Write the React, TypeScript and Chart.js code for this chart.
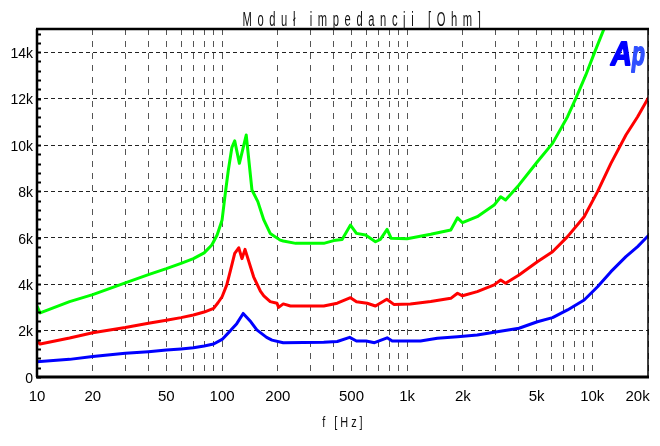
import React, { useEffect, useRef } from 'react';
import { Chart, registerables } from 'chart.js';

Chart.register(...registerables);

const titleText = 'Moduł impedancji [Ohm]';
const xTitleText = 'f [Hz]';

const xGridValues = [10, 20, 30, 40, 50, 60, 70, 80, 90, 100, 200, 300, 400, 500, 600, 700, 800, 900, 1000, 2000, 3000, 4000, 5000, 6000, 7000, 8000, 9000, 10000, 20000];
const xLabelValues = [10, 20, 50, 100, 200, 500, 1000, 2000, 5000, 10000, 20000];
const xLabelTexts = ['10', '20', '50', '100', '200', '500', '1k', '2k', '5k', '10k', '20k'];
const yTickValues = [0, 2000, 4000, 6000, 8000, 10000, 12000, 14000];
const yTickLabels = ['0', '2k', '4k', '6k', '8k', '10k', '12k', '14k'];
const yMinorStep = 400;

const greenFreq = [10, 10.4, 15, 20, 30, 40, 50, 60, 70, 80, 88, 94, 100, 104, 108, 113, 117, 124, 135, 145, 156, 168, 182, 206, 214, 250, 354, 401, 445, 494, 532, 596, 674, 716, 779, 820, 1000, 1340, 1720, 1870, 1990, 2390, 2950, 3200, 3400, 4020, 5050, 6100, 7350, 8150, 9230, 10240, 11600, 12600];
const greenZ = [3050, 2760, 3250, 3550, 4060, 4410, 4670, 4900, 5100, 5350, 5690, 6120, 6770, 7900, 8900, 9900, 10180, 9210, 10430, 8060, 7560, 6770, 6190, 5900, 5860, 5760, 5760, 5880, 5930, 6550, 6190, 6120, 5830, 5930, 6360, 5980, 5960, 6150, 6340, 6860, 6650, 6910, 7410, 7770, 7630, 8280, 9280, 10070, 11220, 12010, 13020, 13950, 15030, 15600];

const redFreq = [10, 10.4, 15, 20, 30, 40, 50, 60, 70, 80, 90, 95, 100, 106, 111, 117, 123, 128, 133, 148, 161, 168, 182, 198, 202, 214, 234, 354, 419, 494, 532, 608, 674, 776, 847, 1040, 1340, 1720, 1870, 1990, 2390, 2950, 3200, 3400, 4020, 5050, 6100, 7350, 9040, 10680, 12610, 15200, 17580, 20000];
const redZ = [1550, 1420, 1680, 1910, 2130, 2320, 2450, 2560, 2670, 2800, 2960, 3200, 3460, 3970, 4600, 5330, 5570, 5100, 5500, 4320, 3700, 3500, 3250, 3180, 3000, 3150, 3060, 3060, 3180, 3420, 3240, 3180, 3060, 3350, 3130, 3150, 3250, 3390, 3610, 3500, 3680, 3970, 4180, 4040, 4400, 4970, 5400, 6050, 6910, 7990, 9210, 10430, 11220, 12010];

const blueFreq = [10, 15, 20, 30, 40, 50, 60, 70, 80, 90, 100, 111, 120, 130, 143, 154, 174, 186, 214, 354, 419, 489, 532, 600, 666, 779, 830, 1180, 1455, 1870, 2390, 2950, 4020, 5050, 6100, 7350, 9040, 10680, 12610, 15200, 17580, 20000];
const blueZ = [660, 760, 880, 1020, 1090, 1160, 1210, 1260, 1340, 1420, 1620, 2000, 2300, 2740, 2380, 2030, 1710, 1590, 1480, 1500, 1530, 1710, 1550, 1550, 1480, 1690, 1550, 1550, 1670, 1740, 1810, 1930, 2100, 2380, 2560, 2890, 3320, 3890, 4540, 5190, 5620, 6080];

const NARROW = '"Liberation Sans Narrow", "Liberation Sans", Arial, sans-serif';
const PLAIN = '"Liberation Sans", Arial, sans-serif';

function toPoints(fs: number[], zs: number[]) {
  return fs.map((f, i) => ({ x: f, y: zs[i] }));
}

function drawSpaced(ctx: CanvasRenderingContext2D, text: string, cx: number, baseline: number, fontPx: number, scaleX: number, spacing: number, color: string) {
  ctx.save();
  ctx.font = `${fontPx}px ${PLAIN}`;
  ctx.fillStyle = color;
  ctx.textBaseline = 'alphabetic';
  ctx.textAlign = 'left';
  const chars = Array.from(text);
  const widths = chars.map((c) => ctx.measureText(c).width);
  const total = widths.reduce((a, b) => a + b, 0) + spacing * (chars.length - 1);
  ctx.translate(cx - (total * scaleX) / 2, baseline);
  ctx.scale(scaleX, 1);
  let x = 0;
  chars.forEach((c, i) => {
    ctx.fillText(c, x, 0);
    x += widths[i] + spacing;
  });
  ctx.restore();
}

const decorPlugin = {
  id: 'decor',
  afterDraw(chart: any) {
    const { ctx, chartArea: a, scales } = chart;
    const y = scales.y;
    ctx.save();
    ctx.strokeStyle = '#000';
    ctx.lineWidth = 2;
    for (let v = 0; v <= 15000; v += yMinorStep) {
      const py = Math.round(y.getPixelForValue(v)) + 0.5;
      ctx.beginPath();
      ctx.moveTo(a.left, py);
      ctx.lineTo(a.left + 4, py);
      ctx.stroke();
    }
    const line = (x1: number, y1: number, x2: number, y2: number, w: number) => {
      ctx.lineWidth = w;
      ctx.beginPath();
      ctx.moveTo(x1, y1);
      ctx.lineTo(x2, y2);
      ctx.stroke();
    };
    line(a.left - 1, a.top, a.right + 1, a.top, 2.5);
    line(a.left, a.top, a.left, a.bottom, 2.5);
    line(a.right, a.top, a.right, a.bottom, 1.5);
    line(a.left - 1, a.bottom, a.right + 1, a.bottom, 3);
    ctx.restore();

    drawSpaced(ctx, titleText, 361.7, 26, 20, 0.56, 10, '#111');
    drawSpaced(ctx, xTitleText, 342.5, 427, 14, 0.78, 3.8, '#111');

    const logo = (ch: string, x: number, sx: number, color: string) => {
      ctx.save();
      ctx.font = `italic bold 34px ${PLAIN}`;
      ctx.textBaseline = 'alphabetic';
      ctx.fillStyle = color;
      ctx.strokeStyle = color;
      ctx.lineWidth = 1.8;
      ctx.lineJoin = 'round';
      ctx.translate(x, 65);
      ctx.scale(sx, 1);
      ctx.fillText(ch, 0, 0);
      ctx.strokeText(ch, 0, 0);
      ctx.restore();
    };
    logo('A', 611, 0.85, '#0000ff');
    logo('p', 632, 0.62, '#3050ff');
  },
};

export default function App() {
  const canvasRef = useRef<HTMLCanvasElement | null>(null);

  useEffect(() => {
    const canvas = canvasRef.current;
    if (!canvas) return;
    const ds = (label: string, fs: number[], zs: number[], color: string) => ({
      label,
      data: toPoints(fs, zs),
      borderColor: color,
      backgroundColor: color,
      borderWidth: 3,
      pointRadius: 0,
      tension: 0,
      borderJoinStyle: 'round' as const,
      borderCapStyle: 'round' as const,
      fill: false,
    });
    const chart = new Chart(canvas, {
      type: 'line',
      data: {
        datasets: [
          ds('green', greenFreq, greenZ, '#00ff00'),
          ds('red', redFreq, redZ, '#ff0000'),
          ds('blue', blueFreq, blueZ, '#0000ff'),
        ],
      },
      options: {
        responsive: false,
        animation: false,
        devicePixelRatio: 1,
        layout: { padding: { left: 0, top: 29, right: 0, bottom: 0 } },
        plugins: {
          legend: { display: false },
          tooltip: { enabled: false },
          title: { display: false },
        },
        scales: {
          x: {
            type: 'logarithmic',
            min: 10,
            max: 20000,
            afterBuildTicks: (scale: any) => {
              scale.ticks = xGridValues.map((v) => ({ value: v }));
            },
            afterFit: (scale: any) => {
              scale.height = 69;
              scale.paddingLeft = 0;
              scale.paddingRight = 12;
            },
            ticks: {
              autoSkip: false,
              maxRotation: 0,
              minRotation: 0,
              padding: 11,
              color: '#000',
              font: { family: NARROW, size: 15 },
              callback: (value: any) => {
                const i = xLabelValues.indexOf(Number(value));
                if (i < 0) return '';
                return i === xLabelValues.length - 1 ? xLabelTexts[i] + '     ' : xLabelTexts[i];
              },
            },
            grid: { color: '#555', lineWidth: 1, drawTicks: false },
            border: { display: false, dash: [6, 6] },
          },
          y: {
            type: 'linear',
            min: 0,
            max: 15000,
            afterBuildTicks: (scale: any) => {
              scale.ticks = yTickValues.map((v) => ({ value: v }));
            },
            afterFit: (scale: any) => {
              scale.width = 37;
            },
            ticks: {
              padding: 4,
              labelOffset: 2,
              color: '#000',
              font: { family: NARROW, size: 14 },
              callback: (value: any) => {
                const i = yTickValues.indexOf(Number(value));
                return i >= 0 ? yTickLabels[i] : '';
              },
            },
            grid: { color: '#222', lineWidth: 1, drawTicks: false },
            border: { display: false, dash: [4, 3] },
          },
        },
      },
      plugins: [decorPlugin],
    });
    return () => chart.destroy();
  }, []);

  return (
    <div style={{ position: 'fixed', left: 0, top: 0, width: 660, height: 446, background: '#fff' }}>
      <canvas ref={canvasRef} width={660} height={446} style={{ width: 660, height: 446 }} />
    </div>
  );
}
